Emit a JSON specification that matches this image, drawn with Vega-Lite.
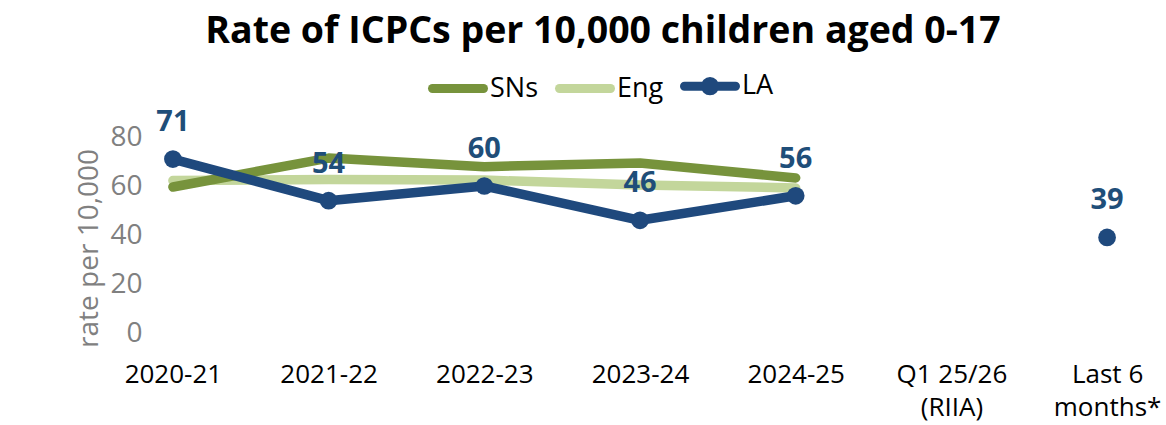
{
  "$schema": "https://vega.github.io/schema/vega-lite/v6.json",
  "width": 984,
  "height": 196,
  "autosize": {"type": "none"},
  "padding": {"left": 148, "top": 137, "right": 34, "bottom": 92},
  "background": "white",
  "config": {"view": {"stroke": null}, "font": "Open Sans"},
  "title": {
    "text": "Rate of ICPCs per 10,000 children aged 0-17",
    "anchor": "middle",
    "frame": "group",
    "dx": -37,
    "offset": 6,
    "fontSize": 37.5,
    "fontWeight": "bold",
    "font": "Open Sans",
    "color": "#000000"
  },
  "data": {
    "values": [
      {"period": "2020-21", "series": "Eng", "value": 62.2},
      {"period": "2021-22", "series": "Eng", "value": 62.7},
      {"period": "2022-23", "series": "Eng", "value": 62.4},
      {"period": "2023-24", "series": "Eng", "value": 60.4},
      {"period": "2024-25", "series": "Eng", "value": 59.2},
      {"period": "2020-21", "series": "SNs", "value": 59.6},
      {"period": "2021-22", "series": "SNs", "value": 71.4},
      {"period": "2022-23", "series": "SNs", "value": 67.9},
      {"period": "2023-24", "series": "SNs", "value": 69.4},
      {"period": "2024-25", "series": "SNs", "value": 63.3},
      {"period": "2020-21", "series": "LA", "value": 71},
      {"period": "2021-22", "series": "LA", "value": 54},
      {"period": "2022-23", "series": "LA", "value": 60},
      {"period": "2023-24", "series": "LA", "value": 46},
      {"period": "2024-25", "series": "LA", "value": 56},
      {"period": "Last 6 months*", "series": "LA", "value": 39}
    ]
  },
  "encoding": {
    "x": {
      "field": "period",
      "type": "ordinal",
      "scale": {
        "type": "point",
        "padding": 0.16,
        "domain": ["2020-21", "2021-22", "2022-23", "2023-24", "2024-25", "Q1 25/26 (RIIA)", "Last 6 months*"]
      },
      "axis": {
        "title": null,
        "labelAngle": 0,
        "labelFontSize": 26,
        "labelFont": "Open Sans",
        "labelColor": "#000000",
        "ticks": false,
        "domain": false,
        "labelPadding": 28,
        "labelLineHeight": 33,
        "labelBaseline": "top",
        "labelExpr": "datum.value == 'Q1 25/26 (RIIA)' ? ['Q1 25/26', '(RIIA)'] : datum.value == 'Last 6 months*' ? ['Last 6', 'months*'] : datum.value"
      }
    },
    "y": {
      "field": "value",
      "type": "quantitative",
      "scale": {"domain": [0, 80], "nice": false},
      "axis": {
        "values": [0, 20, 40, 60, 80],
        "grid": false,
        "domain": false,
        "ticks": false,
        "labelFontSize": 28,
        "labelFont": "Open Sans",
        "labelColor": "#808080",
        "labelPadding": 6,
        "title": "rate per 10,000",
        "titleFontSize": 28,
        "titleFont": "Open Sans",
        "titleFontWeight": "normal",
        "titleColor": "#808080",
        "titlePadding": 6,
        "titleY": 111
      }
    }
  },
  "layer": [
    {
      "transform": [{"filter": "datum.period !== 'Last 6 months*'"}],
      "mark": {"type": "line", "strokeWidth": 9.5, "strokeCap": "round", "strokeJoin": "round"},
      "encoding": {
        "color": {
          "field": "series",
          "type": "nominal",
          "scale": {"domain": ["SNs", "Eng", "LA"], "range": ["#77933C", "#C3D69B", "#1F497D"]},
          "legend": {
            "orient": "none",
            "legendX": 280,
            "legendY": -81,
            "direction": "horizontal",
            "title": null,
            "symbolType": "stroke",
            "symbolStrokeWidth": 9,
            "symbolSize": 2600,
            "labelFontSize": 27,
            "labelFont": "Open Sans",
            "labelColor": "#000000",
            "columnPadding": 2,
            "labelOffset": 2,
            "encode": {
              "symbols": {
                "update": {
                  "shape": {"signal": "datum.value === 'LA' ? 'M-1,0H1M0.18,0A0.18,0.18,0,1,1,-0.18,0A0.18,0.18,0,1,1,0.18,0Z' : 'stroke'"},
                  "fill": {"signal": "datum.value === 'LA' ? '#1F497D' : 'transparent'"},
                  "fillOpacity": {"value": 1},
                  "strokeCap": {"value": "round"}
                }
              }
            }
          }
        },
        "order": {"field": "series", "sort": "ascending"}
      }
    },
    {
      "transform": [{"filter": "datum.series === 'LA'"}],
      "mark": {"type": "point", "filled": true, "size": 314, "opacity": 1, "color": "#1F497D"},
      "encoding": {}
    },
    {
      "transform": [{"filter": "datum.series === 'LA'"}],
      "mark": {"type": "text", "dy": -37, "fontWeight": "bold", "fontSize": 29, "font": "Open Sans", "color": "#1F4E79"},
      "encoding": {"text": {"field": "value", "type": "quantitative", "format": ".0f"}}
    }
  ]
}
